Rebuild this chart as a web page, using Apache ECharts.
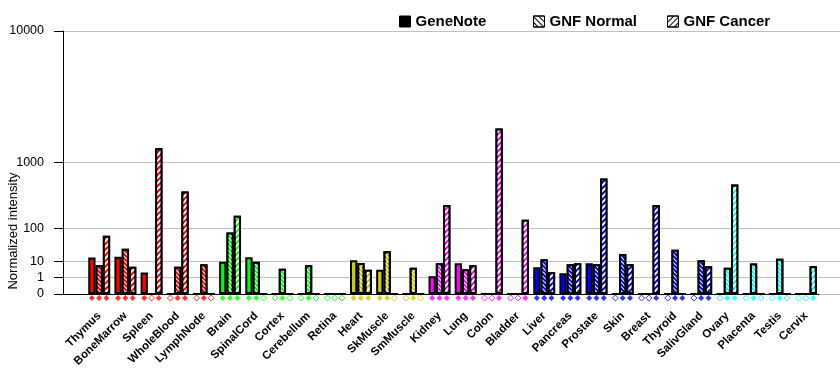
<!DOCTYPE html>
<html><head><meta charset="utf-8">
<script src="https://cdn.jsdelivr.net/npm/echarts@6/dist/echarts.min.js"></script>
<style>html,body{margin:0;padding:0;background:#fff}#c{width:840px;height:385px}</style>
</head><body><div id="c"></div>
<script>
const categories = ['Thymus','BoneMarrow','Spleen','WholeBlood','LymphNode','Brain','SpinalCord','Cortex','Cerebellum','Retina','Heart','SkMuscle','SmMuscle','Kidney','Lung','Colon','Bladder','Liver','Pancreas','Prostate','Skin','Breast','Thyroid','SalivGland','Ovary','Placenta','Testis','Cervix'];
const geneNote  = [14, 15, 2.4, 0, 0, 9.5, 14.5, 0, 0, 0, 11, 3.7, 0, 1.3, 8, 0, 0, 5, 2.2, 8, 0, 0, 0, 0, 0, 0, 0, 0];
const gnfNormal = [6.4, 29, 0, 5.4, 7.2, 80, 9.5, 4.2, 6.4, 0, 8.3, 24, 4.8, 8, 3.9, 0, 0, 12, 7.2, 7.2, 19, 0, 27, 11, 4.8, 7.7, 12.7, 0];
const gnfCancer = [67, 5.4, 1410, 436, 0, 179, 0, 0, 0, 0, 3.7, 0, 0, 274, 6.4, 2150, 150, 2.5, 8, 650, 7.2, 274, 0, 5.7, 543, 0, 0, 5.7];
const geneNotePresent  = [1,1,1,0,0,1,1,0,0,0,1,1,0,1,1,0,0,1,1,1,0,0,0,0,0,0,0,0];
const gnfNormalPresent = [1,1,0,1,1,1,1,1,1,0,1,1,1,1,1,0,0,1,1,1,1,0,1,1,1,1,1,0];
const gnfCancerPresent = [1,1,1,1,0,1,0,0,0,0,1,0,0,1,1,1,1,1,1,1,1,1,1,1,1,0,0,1];
const seriesNames = ['GeneNote','GNF Normal','GNF Cancer'];
const yTickLabels = ['0','1','10','100','1000','10000'];

const RED='#FF0000', GREEN='#00FF00', OLIVE='#CCCC00', MAG='#FF00FF', BLUE='#0000FF', CYAN='#00FFFF';
const tissueColors = [RED,RED,RED,RED,RED, GREEN,GREEN,GREEN,GREEN,GREEN, OLIVE,OLIVE,OLIVE, MAG,MAG,MAG,MAG, BLUE,BLUE,BLUE,BLUE,BLUE,BLUE,BLUE, CYAN,CYAN,CYAN,CYAN];

const EXP = Math.log10(2);
const tf = v => v > 0 ? Math.pow(v, EXP) : 0;
const yTickValues = yTickLabels.map(s => tf(parseFloat(s)));
const yMax = tf(10000);
const labelFor = v => { const i = yTickValues.findIndex(t => Math.abs(t - v) < 1e-6); return i >= 0 ? yTickLabels[i] : ''; };

const FONT = 'Liberation Sans, Arial, sans-serif';
const TOP = 31, BOTTOM = 91;

const makeDecal = (s, color, gap) => s === 1
  ? { symbol: 'rect', symbolSize: 1, symbolKeepAspect: false, color, dashArrayX: [1, 0], dashArrayY: [1, gap || 1.5], rotation: Math.PI / 4 }
  : { symbol: 'rect', symbolSize: 1, symbolKeepAspect: false, color, dashArrayX: [1, 0], dashArrayY: [gap ? 1 : 2, gap || 2], rotation: -Math.PI / 4 };

const values = [geneNote, gnfNormal, gnfCancer];
const present = [geneNotePresent, gnfNormalPresent, gnfCancerPresent];
const offsets = [-7.3, 0, 7.3];

const series = [];
values.forEach((arr, s) => {
  const itemStyle = { color: '#000', borderColor: '#000', borderWidth: 2 };
  if (s > 0) itemStyle.decal = makeDecal(s, '#FFFFFF');
  series.push({
    name: seriesNames[s], type: 'bar', xAxisIndex: 2, yAxisIndex: 2,
    barWidth: 7.3, barGap: '0%', clip: false, z: 3,
    itemStyle,
    emphasis: { disabled: true },
    data: arr.map((v, i) => ({ value: tf(v), itemStyle: { color: tissueColors[i] } }))
  });
});
present.forEach((arr, s) => {
  series.push({
    type: 'scatter', xAxisIndex: 2, yAxisIndex: 2, clip: false, z: 4,
    symbol: 'diamond', symbolSize: 6, symbolOffset: [offsets[s], 4],
    silent: true,
    data: arr.map((p, i) => ({ value: 0, itemStyle: p ? { color: tissueColors[i], borderWidth: 0 } : { color: '#FFFFFF', borderColor: tissueColors[i], borderWidth: 1 } }))
  });
});

const chart = echarts.init(document.getElementById('c'), null, { renderer: 'canvas' });
chart.setOption({
  animation: false,
  backgroundColor: '#FFFFFF',
  textStyle: { fontFamily: FONT },
  legend: seriesNames.map((n, k) => ({
    data: [n], left: [399, 533, 667][k], top: 14, padding: 0,
    icon: 'rect', itemWidth: 11, itemHeight: 11,
    itemStyle: k === 0 ? { color: '#000', borderColor: '#000', borderWidth: 1 }
                       : { color: '#FFFFFF', borderColor: '#000', borderWidth: 1, decal: makeDecal(k, '#000000', 2.5) },
    textStyle: { fontFamily: FONT, fontSize: 15, fontWeight: 'bold', color: '#000' },
    selectedMode: false
  })),
  grid: [
    { left: 63, right: 21, top: TOP, bottom: BOTTOM },
    { left: 63, right: 0, top: TOP, bottom: BOTTOM },
    { left: 86.1, right: 21, top: TOP, bottom: BOTTOM }
  ],
  xAxis: [
    { gridIndex: 0, type: 'value', min: 0, max: 1, axisLine: { show: true, lineStyle: { color: '#000', width: 1 } }, axisTick: { show: false }, axisLabel: { show: false }, splitLine: { show: false } },
    { gridIndex: 1, type: 'value', min: 0, max: 1, show: false },
    { gridIndex: 2, type: 'category', data: categories, axisLine: { show: false }, axisTick: { show: false },
      axisLabel: { interval: 0, rotate: 45, margin: 20, color: '#000', fontFamily: FONT, fontSize: 11.5, fontWeight: 'bold' } }
  ],
  yAxis: [
    { gridIndex: 0, type: 'value', min: 0, max: yMax,
      axisLine: { show: true, lineStyle: { color: '#000', width: 1 } },
      axisTick: { show: true, length: 9, customValues: yTickValues, lineStyle: { color: '#000' } },
      axisLabel: { customValues: yTickValues, formatter: labelFor, margin: 19, color: '#000', fontFamily: FONT, fontSize: 12.5 },
      splitLine: { show: false } },
    { gridIndex: 1, type: 'value', min: 0, max: yMax, axisLine: { show: false },
      axisTick: { show: false, customValues: yTickValues }, axisLabel: { show: false, customValues: yTickValues },
      splitLine: { show: true, lineStyle: { color: '#C0C0C0', width: 1 } } },
    { gridIndex: 2, type: 'value', min: 0, max: yMax, show: false }
  ],
  graphic: [{ type: 'text', x: 13, y: 231, rotation: Math.PI / 2,
    style: { text: 'Normalized intensity', font: '13px ' + FONT, fill: '#000', align: 'center', verticalAlign: 'middle' } }],
  series
});
</script></body></html>
